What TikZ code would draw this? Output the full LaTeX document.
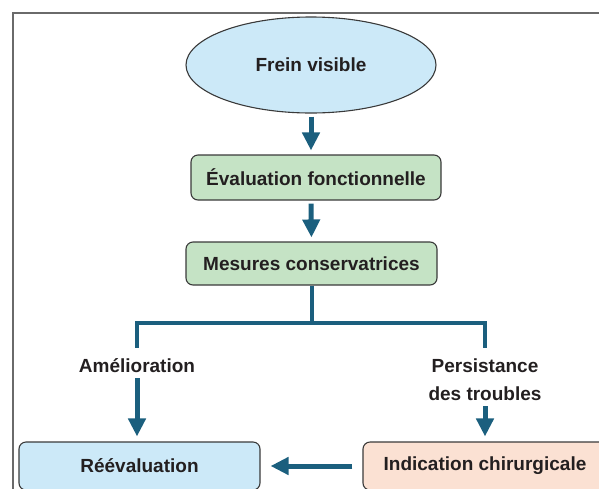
\documentclass[tikz,border=0pt]{standalone}
\usepackage{fontspec}
\setmainfont{Liberation Sans}
\usepackage{xcolor}
\usetikzlibrary{shapes.geometric, arrows.meta}

\definecolor{flowteal}{HTML}{1B5F7E}
\definecolor{boxline}{HTML}{3A3A3A}
\definecolor{inkdark}{HTML}{231F20}
\definecolor{skyfill}{HTML}{CCE9F8}
\definecolor{sagefill}{HTML}{C5E3C5}
\definecolor{peachfill}{HTML}{FBE1D3}
\definecolor{framegray}{HTML}{6A6A6A}

\begin{document}
\begin{tikzpicture}[
  x=1pt, y=-1pt,
  every node/.style={font=\fontsize{19}{28}\selectfont\bfseries, text=inkdark},
  stepbox/.style={draw=boxline, line width=1.1pt, rounded corners=7pt,
    minimum height=45pt},
  branchlabel/.style={inner sep=0pt, align=center, text height=14pt, text depth=4pt},
  flow/.style={draw=flowteal, line width=5pt, -{Triangle[length=18pt,width=17pt]},
    shorten <=3pt, shorten >=4pt},
  link/.style={draw=flowteal, line width=4pt}
]
\useasboundingbox (0,0) rectangle (599,488);
\clip (0,0) rectangle (599,488);

% ---- frame ----
\draw[framegray, line width=2pt] (12.5,520) -- (12.5,12.5) -- (640,12.5);

% ---- top of the flow ----
\node[ellipse, draw=boxline, line width=1.1pt, fill=skyfill,
      minimum width=250pt, minimum height=96pt] (frein) at (311,65) {Frein visible};
\node[stepbox, fill=sagefill, minimum width=250pt] (eval) at (316,177.5)
  {Évaluation fonctionnelle};
\node[stepbox, fill=sagefill, minimum width=251pt, minimum height=43pt] (mes)
  at (311.5,263.5) {Mesures conservatrices};

\draw[flow] (frein.south) -- (frein.south |- eval.north);
\draw[flow] (frein.south |- eval.south) -- (mes.north);

% ---- branches ----
\node[branchlabel] (amel) at (137,367) {Amélioration};
\node[branchlabel, text height=42pt] (pers) at (485,381) {Persistance\\des troubles};

\draw[link, shorten >=10pt] (mes.south) -- ++(0,37) -| (amel.north);
\draw[link, shorten >=10pt] (mes.south) -- ++(0,37) -| (pers.north);

% ---- bottom boxes ----
\node[stepbox, fill=skyfill, minimum width=241pt, minimum height=48pt,
      yshift=2pt] (reev) at (139.5,468) {Réévaluation};
\node[stepbox, fill=peachfill, minimum width=244pt, minimum height=48pt,
      yshift=2pt] (indic) at (485,468) {Indication chirurgicale};

\draw[flow, shorten <=2pt, shorten >=5pt] (amel.south) -- (amel.south |- reev.north);
\draw[flow, shorten <=2pt, shorten >=5pt] (pers.south) -- (pers.south |- indic.north);
\draw[flow, shorten <=10pt, shorten >=10pt] (indic.west) -- (reev.east);

\end{tikzpicture}
\end{document}
